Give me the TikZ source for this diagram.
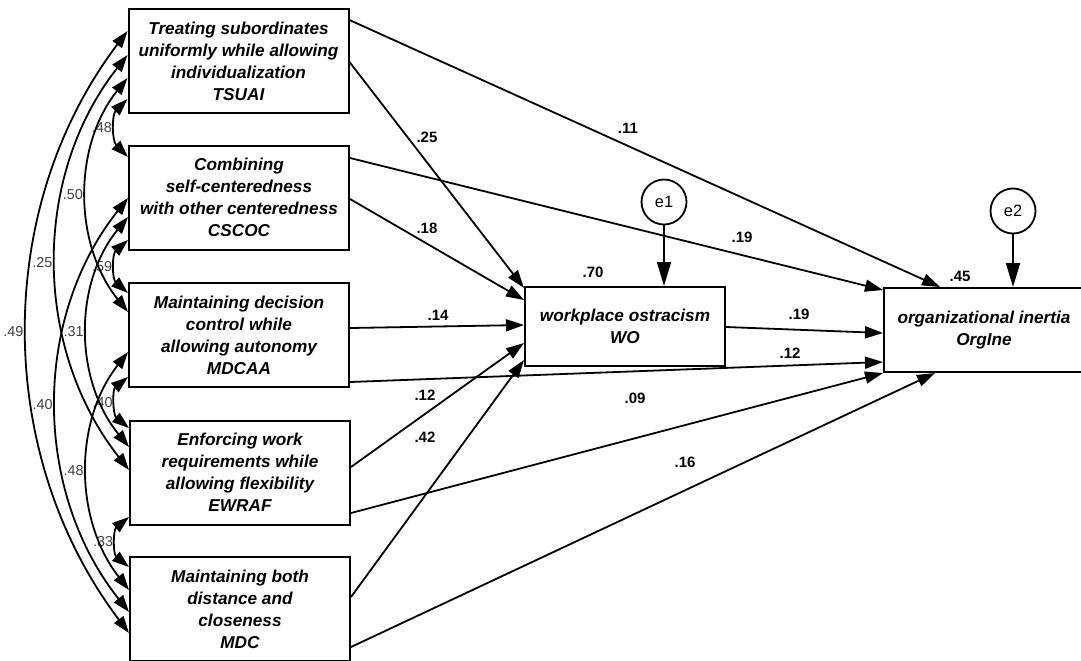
\documentclass[tikz,border=0pt]{standalone}
\usepackage{fontspec}
\setmainfont{Liberation Sans}
\usetikzlibrary{arrows.meta,calc}
\tikzset{
  box/.style={draw, line width=1pt, minimum width=110pt, minimum height=52pt, inner sep=0pt,
    align=center, font=\fontsize{8.6}{11}\selectfont\bfseries\itshape},
  pth/.style={line width=0.9pt, -{Triangle[length=9pt,width=6pt]}},
  epth/.style={line width=0.9pt, -{Triangle[length=12pt,width=7pt]}},
  cov/.style={line width=0.9pt, {Triangle[length=8.5pt,width=5.8pt]}-{Triangle[length=8.5pt,width=5.8pt]}},
  err/.style={draw, circle, line width=0.9pt, minimum size=22.5pt, inner sep=0pt,
    font=\fontsize{8.2}{10}\selectfont},
  lbl/.style={font=\fontsize{7.5}{9}\selectfont\bfseries, inner sep=0pt},
  clbl/.style={font=\fontsize{7.2}{9}\selectfont, text=black!75, inner sep=1.5pt, anchor=east}
}
\begin{document}
\begin{tikzpicture}[x=0.5pt,y=-0.5pt]
\useasboundingbox (0,0) rectangle (1081,660);
\fill[white] (0,0) rectangle (1081,660);

% exogenous boxes
\node[box] (tsuai) at (238.5,61) {Treating subordinates\\uniformly while allowing\\individualization\\TSUAI};
\node[box] (cscoc) at (239,197.5) {Combining\\self-centeredness\\with other centeredness\\CSCOC};
\node[box] (mdcaa) at (239,335) {Maintaining decision\\control while\\allowing autonomy\\MDCAA};
\node[box] (ewraf) at (240,472.5) {Enforcing work\\requirements while\\allowing flexibility\\EWRAF};
\node[box] (mdc) at (240,609) {Maintaining both\\distance and\\closeness\\MDC};

% endogenous boxes
\node[box, minimum width=100pt, minimum height=39.5pt] (wo) at (625,326.5) {workplace ostracism\\WO};
\node[box, minimum width=100pt, minimum height=42pt] (oi) at (984,330) {organizational inertia\\OrgIne};

% error terms
\node[err] (e1) at (664,202) {e1};
\node[err] (e2) at (1013,211) {e2};

% structural paths
\draw[pth] (tsuai.east |- 0,20) -- (oi.north -| 940,0);
\draw[pth] (tsuai.east |- 0,62) -- (wo.west |- 0,288);
\draw[pth] (cscoc.east |- 0,158) -- (oi.west |- 0,290);
\draw[pth] (cscoc.east |- 0,199) -- (wo.west |- 0,300);
\draw[pth] (mdcaa.east |- 0,328) -- (wo.west |- 0,325);
\draw[pth] (mdcaa.east |- 0,382) -- (oi.west |- 0,362);
\draw[pth] (ewraf.east |- 0,467) -- (wo.west |- 0,343);
\draw[pth] (ewraf.east |- 0,513) -- (oi.south west);
\draw[pth] (mdc.east |- 0,597) -- (wo.west |- 0,360);
\draw[pth] (mdc.east |- 0,647) -- (oi.south -| 935,0);
\draw[pth] (wo.east |- 0,327) -- (oi.west |- 0,333);
\draw[epth] (e1) -- (wo.north -| e1);
\draw[epth] (e2) -- (oi.north -| e2);

% path labels
\node[lbl] (l11) at (628,128) {.11};
\node[lbl] (l25) at (427,137) {.25};
\node[lbl] (l18) at (427,228) {.18};
\node[lbl] (l19a) at (742,237) {.19};
\node[lbl] (l70) at (593,272) {.70};
\node[lbl] (l45) at (960,276) {.45};
\node[lbl] (l14) at (438,315) {.14};
\node[lbl] (l19b) at (799,314) {.19};
\node[lbl] (l12b) at (790,353) {.12};
\node[lbl] (l12a) at (425,395) {.12};
\node[lbl] (l09) at (635,398) {.09};
\node[lbl] (l42) at (425,437) {.42};
\node[lbl] (l16) at (685,462) {.16};

% covariances
\draw[cov] (tsuai.west |- 0,99) .. controls +(-16,16) and +(-16,-16) .. node[clbl,pos=.5] (c1) {.48} (cscoc.west |- 0,157);
\draw[cov] (cscoc.west |- 0,240) .. controls +(-16,14) and +(-16,-14) .. node[clbl,pos=.5] (c2) {.59} (mdcaa.west |- 0,293);
\draw[cov] (mdcaa.west |- 0,377) .. controls +(-16,13) and +(-16,-13) .. node[clbl,pos=.5] (c3) {.40} (ewraf.west |- 0,428);
\draw[cov] (ewraf.west |- 0,517) .. controls +(-16,13) and +(-16,-13) .. node[clbl,pos=.5] (c4) {.33} (mdc.west |- 0,567);
\draw[cov] (tsuai.west |- 0,78) .. controls +(-54.7,68) and +(-54.7,-68) .. node[clbl,pos=.5] (c5) {.50} (mdcaa.west |- 0,312);
\draw[cov] (cscoc.west |- 0,217) .. controls +(-54.7,67) and +(-54.7,-67) .. node[clbl,pos=.5] (c6) {.31} (ewraf.west |- 0,447);
\draw[cov] (mdcaa.west |- 0,352) .. controls +(-54.7,70) and +(-54.7,-70) .. node[clbl,pos=.5] (c7) {.48} (mdc.west |- 0,590);
\draw[cov] (tsuai.west |- 0,55) .. controls +(-96,122) and +(-96,-122) .. node[clbl,pos=.5] (c8) {.25} (ewraf.west |- 0,470);
\draw[cov] (cscoc.west |- 0,198) .. controls +(-96,121) and +(-96,-121) .. node[clbl,pos=.5] (c9) {.40} (mdc.west |- 0,612);
\draw[cov] (tsuai.west |- 0,31) .. controls +(-134.7,178) and +(-134.7,-178) .. node[clbl,pos=.5] (c10) {.49} (mdc.west |- 0,633);
\end{tikzpicture}
\end{document}
